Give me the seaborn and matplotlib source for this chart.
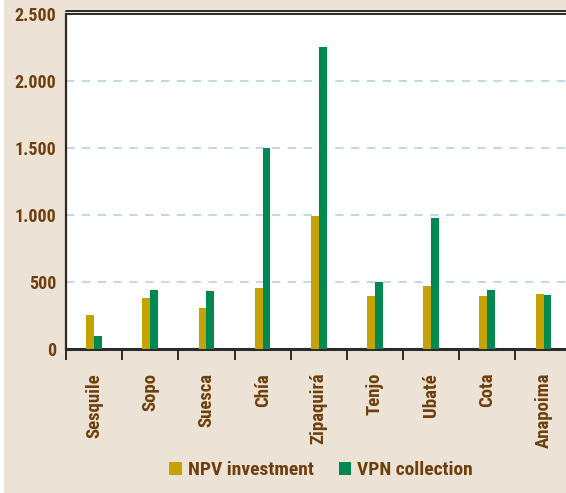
import numpy as np
import pandas as pd
import seaborn as sns
import matplotlib.pyplot as plt
from matplotlib.patches import Rectangle

# datos
municipios = ["Sesquile", "Sopo", "Suesca", "Chía", "Zipaquirá", "Tenjo", "Ubaté", "Cota", "Anapoima"]
npv_investment = [256, 383, 308, 457, 993, 397, 472, 397, 412]
vpn_collection = [99, 442, 435, 1500, 2256, 502, 980, 442, 405]
series_names = ["NPV investment", "VPN collection"]
y_ticks = [0, 500, 1000, 1500, 2000, 2500]
y_tick_labels = ["0", "500", "1.000", "1.500", "2.000", "2.500"]

BG = "#EDE2D6"
BROWN = "#6E3F0C"
GOLD = "#C4A200"
GREEN = "#008852"
DARK = "#2B2B2B"
PESO = "bold"

df = pd.DataFrame({
    "municipio": municipios * 2,
    "valor": npv_investment + vpn_collection,
    "serie": [series_names[0]] * len(municipios) + [series_names[1]] * len(municipios),
})

sns.set_theme(style="white")
plt.rcParams["font.family"] = ["Roboto Condensed", "DejaVu Sans"]
plt.rcParams["font.weight"] = PESO

fig = plt.figure(figsize=(5.66, 4.93), dpi=100, facecolor=BG)
# franja blanca a la izquierda
fig.patches.append(Rectangle((0, 0), 4 / 566, 1, transform=fig.transFigure,
                             facecolor="white", edgecolor="none", zorder=-1))
ax = fig.add_axes([66 / 566, 143.7 / 493, 500 / 566, 335 / 493])

sns.barplot(data=df, x="municipio", y="valor", hue="serie", palette=[GOLD, GREEN],
            width=0.28, saturation=1, linewidth=0, ax=ax, zorder=3)

ax.set_xlim(-0.5, 8.4)
ax.set_ylim(0, 2500)
ax.set_yticks(y_ticks)
ax.set_yticklabels(y_tick_labels)
ax.set_xlabel("")
ax.set_ylabel("")

# rejilla
ax.yaxis.grid(True, linestyle=(0, (5, 4.5)), color="#B7D2E6", linewidth=1.2, zorder=0)
ax.set_axisbelow(True)

for side in ["left", "bottom", "top"]:
    ax.spines[side].set_color(DARK)
ax.spines["left"].set_linewidth(1.6)
ax.spines["bottom"].set_linewidth(2.2)
ax.spines["top"].set_linewidth(1.4)
ax.spines["right"].set_visible(False)
ax.plot([0, 1], [1.0105, 1.0105], transform=ax.transAxes, color=DARK,
        lw=1.4, clip_on=False)

ax.tick_params(axis="y", length=0, pad=7, labelsize=13, labelcolor=BROWN)
ax.tick_params(axis="x", which="major", length=0, pad=17, labelsize=13.5, labelcolor=BROWN,
               labelrotation=90)
ax.set_xticks(np.arange(-0.5, len(municipios) - 1, 1), minor=True)
ax.tick_params(axis="x", which="minor", bottom=True, length=8, width=1.4, color=DARK,
               direction="out")
for lab in ax.get_xticklabels() + ax.get_yticklabels():
    lab.set_fontweight(PESO)
for lab in ax.get_xticklabels():
    lab.set_va("top")

handles, labels = ax.get_legend_handles_labels()
ax.legend(handles, labels, loc="center", bbox_to_anchor=(0.51, -0.36), ncol=2,
          frameon=False, handlelength=0.65, handleheight=0.65, handletextpad=0.3,
          columnspacing=1.3, prop={"size": 14, "weight": PESO}, labelcolor=BROWN)

fig.savefig("out.png", dpi=100, facecolor=BG)
